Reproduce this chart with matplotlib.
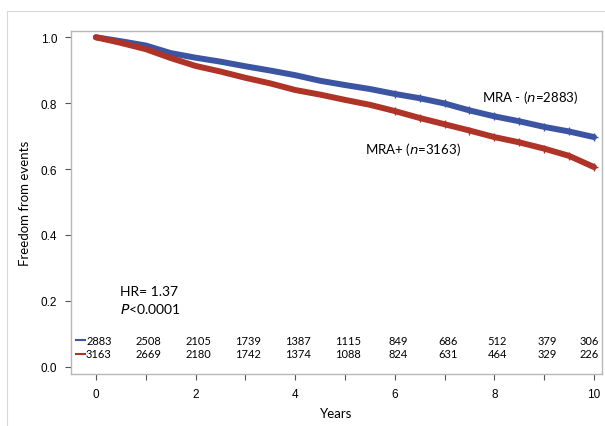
import matplotlib
matplotlib.use("Agg")
import matplotlib.pyplot as plt
from matplotlib.patches import Rectangle
import numpy as np

# --- survival curves (every 0.5 year) ---
years = [0, 0.5, 1, 1.5, 2, 2.5, 3, 3.5, 4, 4.5, 5, 5.5, 6, 6.5, 7, 7.5, 8, 8.5, 9, 9.5, 10]
surv_mra_neg = [1.0, 0.988, 0.975, 0.952, 0.938, 0.926, 0.912, 0.899, 0.885, 0.868, 0.855,
                0.843, 0.828, 0.815, 0.799, 0.778, 0.760, 0.745, 0.728, 0.714, 0.697]
surv_mra_pos = [1.0, 0.983, 0.964, 0.937, 0.913, 0.896, 0.877, 0.860, 0.840, 0.826, 0.810,
                0.795, 0.776, 0.755, 0.736, 0.717, 0.697, 0.681, 0.662, 0.640, 0.606]

# --- numbers at risk ---
risk_years = [0, 1, 2, 3, 4, 5, 6, 7, 8, 9, 10]
risk_neg = [2883, 2508, 2105, 1739, 1387, 1115, 849, 686, 512, 379, 306]
risk_pos = [3163, 2669, 2180, 1742, 1374, 1088, 824, 631, 464, 329, 226]

C_NEG = "#3B55A3"
C_POS = "#B03327"
SPINE = "#B8B8B8"

plt.rcParams.update({"font.family": ["Liberation Sans", "DejaVu Sans"]})
TXT = ["Lato", "Open Sans", "DejaVu Sans"]

fig = plt.figure(figsize=(6.05, 4.27), dpi=100)
fig.patches.append(Rectangle((7 / 605, -0.01), 1.0, (427 - 12) / 427 + 0.01,
                             transform=fig.transFigure, fill=False,
                             edgecolor="#D8D8D8", lw=0.8))
ax = fig.add_axes([71 / 605, 52 / 427, 531 / 605, 343 / 427])

ax.plot(years, surv_mra_neg, color=C_NEG, lw=4.3, solid_capstyle="round", zorder=3)
ax.plot(years, surv_mra_pos, color=C_POS, lw=4.3, solid_capstyle="round", zorder=3)
ax.plot(years[12:], surv_mra_neg[12:], ls="none", marker="+", ms=6, mew=1,
        color=C_NEG, zorder=4)
ax.plot(years[12:], surv_mra_pos[12:], ls="none", marker="+", ms=6, mew=1,
        color=C_POS, zorder=4)

ax.set_xlim(-0.5, 10.16)
ax.set_ylim(-0.022, 1.019)
ax.set_xticks(range(0, 11))
ax.set_xticklabels([str(v) if v % 2 == 0 else "" for v in range(0, 11)], fontsize=8.5)
ax.set_yticks([0.0, 0.2, 0.4, 0.6, 0.8, 1.0])
ax.set_yticklabels(["0.0", "0.2", "0.4", "0.6", "0.8", "1.0"], fontsize=8.5)
ax.tick_params(length=4, width=0.8, color="#555555", pad=6)
for s in ax.spines.values():
    s.set_color(SPINE)
    s.set_linewidth(1)

ax.set_xlabel("Years", fontsize=9.5, family=TXT, labelpad=5)
ax.set_ylabel("Freedom from events", fontsize=9.5, family=TXT, labelpad=7)

# annotations
ax.text(0.48, 0.231, "HR= 1.37", fontsize=10, family=TXT, va="center")
ax.text(0.48, 0.177, r"$\it{P}$<0.0001", fontsize=10, family=TXT, va="center")
ax.text(7.75, 0.82, "MRA - ($\\it{n}$=2883)", fontsize=9.5, family=TXT, va="center")
ax.text(5.4, 0.662, "MRA+ ($\\it{n}$=3163)", fontsize=9.5, family=TXT, va="center")

# numbers at risk
for t, a, b in zip(risk_years, risk_neg, risk_pos):
    xc = min(t + 0.06, 9.9)
    ax.text(xc, 0.080, str(a), fontsize=8, family=TXT, ha="center", va="center")
    ax.text(xc, 0.040, str(b), fontsize=8, family=TXT, ha="center", va="center")
ax.plot([-0.4, -0.22], [0.080, 0.080], color=C_NEG, lw=1.5)
ax.plot([-0.4, -0.22], [0.040, 0.040], color=C_POS, lw=1.5)

fig.savefig("out.png", dpi=100, facecolor="white")
